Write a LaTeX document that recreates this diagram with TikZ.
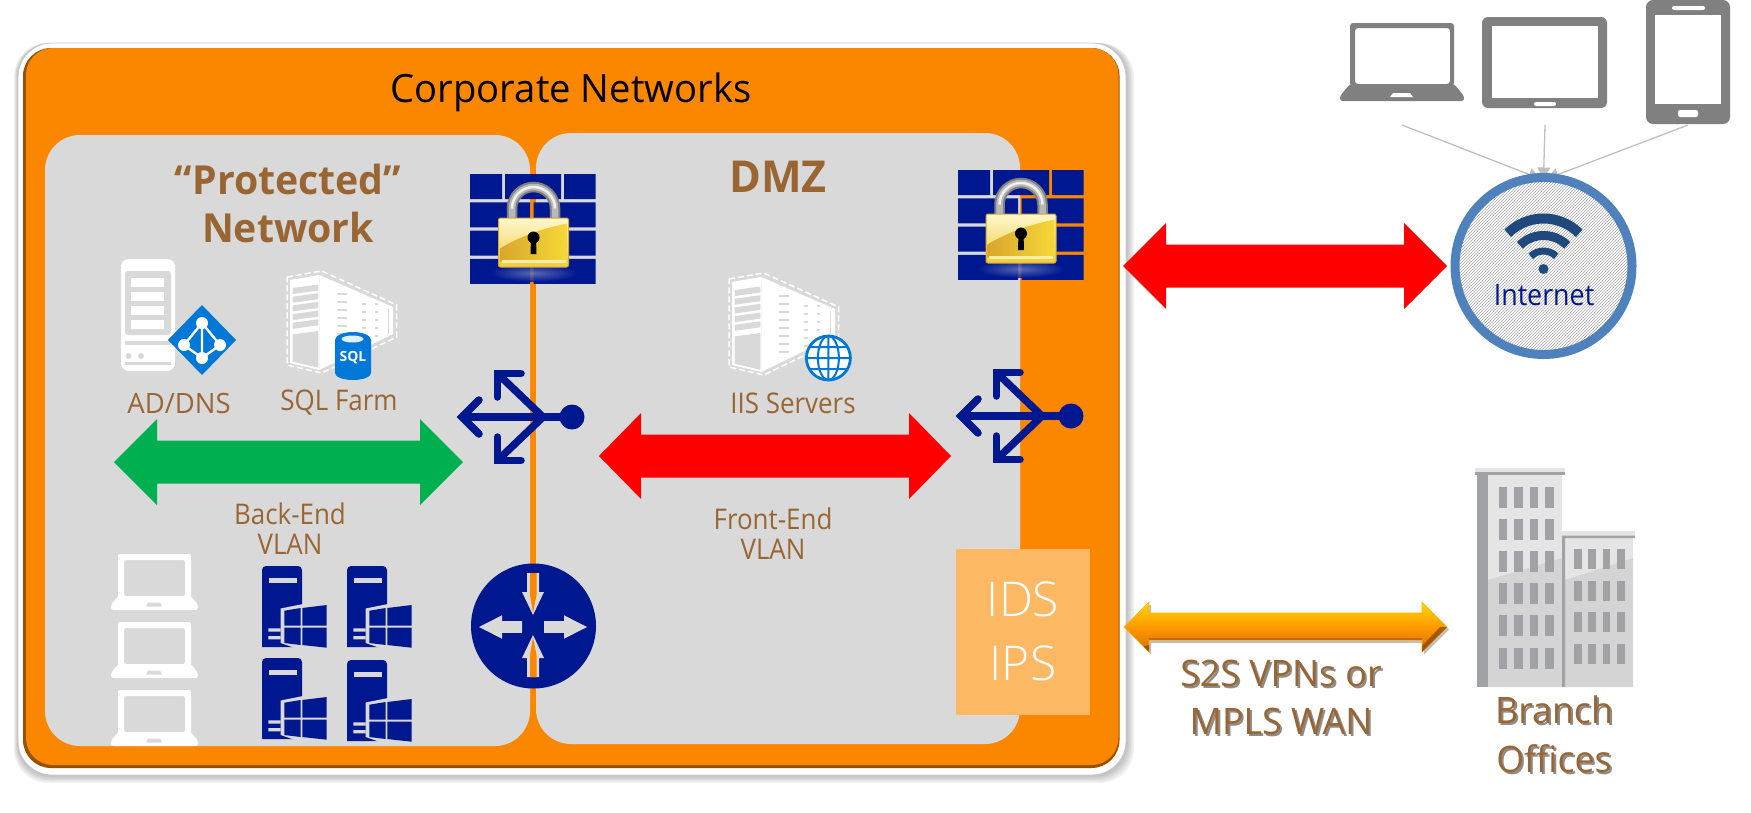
\documentclass[tikz,border=0pt]{standalone}
\usepackage{fontspec}
\setmainfont{Open Sans}
\newfontfamily\narrowf[FakeStretch=0.91]{Open Sans}
\newfontfamily\widef[FakeStretch=0.98]{Open Sans}
\newfontfamily\lightf[FakeStretch=1.0]{Open Sans Light}
\usetikzlibrary{arrows.meta,patterns}
\definecolor{navy}{HTML}{00188F}
\definecolor{panelgray}{HTML}{D9D9D9}
\definecolor{orangeb}{HTML}{FB8700}
\definecolor{brownt}{HTML}{996633}
\definecolor{devgray}{HTML}{808080}
\definecolor{azureb}{HTML}{0078D7}
\definecolor{winb}{HTML}{A1A2A6}
\definecolor{wifib}{HTML}{1F497D}
\definecolor{idsb}{HTML}{FDB863}
\definecolor{greenb}{HTML}{00B050}
\definecolor{circb}{HTML}{4F81BD}
\tikzset{
  panel/.style={fill=panelgray,rounded corners=35pt},
  lab/.style={text=brownt,inner sep=0pt,align=center,font=\narrowf\fontsize{28.5}{30}\selectfont},
  biglab/.style={text=brownt,inner sep=0pt,align=center,font=\widef\bfseries\fontsize{40}{48}\selectfont},
  shlab/.style={inner sep=0pt,align=center,font=\widef\fontsize{36.5}{48.5}\selectfont},
  feed/.style={draw=black!25,line width=1.3pt,-{Triangle[length=11pt,width=13pt]}}
}
\newcommand\blockarrow[7]{%
  \fill[#7] (#1,#3) -- ({#1+#6},{#3-#5}) -- ({#1+#6},{#3-#4}) -- ({#2-#6},{#3-#4}) -- ({#2-#6},{#3-#5}) -- (#2,#3) -- ({#2-#6},{#3+#5}) -- ({#2-#6},{#3+#4}) -- ({#1+#6},{#3+#4}) -- ({#1+#6},{#3+#5}) -- cycle;}
\newcommand\firewall[2]{%
\begin{scope}[shift={(#1,#2)}]
  \fill[navy] (0,0) rectangle (32,25) (35,0) rectangle (91,25) (94,0) rectangle (125.5,25);
  \foreach \r in {28.3,56.6,84.9} {
    \fill[navy] (0,\r) rectangle (60,\r+25) (63.5,\r) rectangle (125.5,\r+25);}
\end{scope}}
\definecolor{goldd}{HTML}{D9A62C}
\definecolor{goldl}{HTML}{F6D838}
\definecolor{goldc}{HTML}{FFF8CC}
\definecolor{goldm}{HTML}{EFCB45}
\newcommand\padlock[2]{%
\begin{scope}[shift={(#1,#2)}]
  \shade[inner color=white!40!navy,outer color=navy,opacity=.85] (-44,22) rectangle (44,39);
  \draw[line width=10.5pt,color=black!50] (-21.5,-20) -- (-21.5,-34) arc[start angle=180,end angle=0,radius=21.5pt] -- (21.5,-20);
  \draw[line width=6.5pt,color=black!28] (-21.5,-20) -- (-21.5,-34) arc[start angle=180,end angle=0,radius=21.5pt] -- (21.5,-20);
  \draw[line width=2.5pt,color=black!6] (-21.5,-34) arc[start angle=180,end angle=0,radius=21.5pt];
  \shade[top color=goldc,bottom color=goldm,rounded corners=2pt,draw=goldd,line width=1pt] (-35,-24.5) rectangle (35,24.5);
  \shade[left color=goldd,right color=goldl] (-33.5,19) -- (-33.5,6) .. controls (-12,-7) and (10,-14) .. (33.5,-19) -- (33.5,19) -- cycle;
  \fill[goldc!70!goldl] (-32,17.5) rectangle (32,20.5);
  \fill[black] (0,-5) circle[radius=6pt];
  \fill[black] (-2.5,-5) -- (-3,11.5) -- (3,11.5) -- (2.5,-5) -- cycle;
\end{scope}}
\newcommand\switchsym[2]{%
\begin{scope}[shift={(#1,#2)},line width=7.5pt,navy]
  \draw (-78,0) -- (28,0);
  \fill (31,0) circle[radius=12.5pt];
  \draw (-43.5,-43.5) -- (2,0) -- (-43.5,43.5);
  \draw[line cap=round,miter limit=10] (-62,-17) -- (-79,0) -- (-62,17);
  \draw[line cap=round,miter limit=10] (-43.5,-20) -- (-43.5,-43.5) -- (-20,-43.5);
  \draw[line cap=round,miter limit=10] (-43.5,20) -- (-43.5,43.5) -- (-20,43.5);
\end{scope}}
\newcommand\wlaptop[2]{%
\begin{scope}[shift={(#1,#2)}]
  \fill[white,rounded corners=2pt,even odd rule] (7,0) rectangle (80,44) (13,6) rectangle (74,42);
  \fill[white,rounded corners=2.5pt] (7,42) -- (0,51) -- (0,56) -- (87,56) -- (87,51) -- (80,42) -- cycle;
  \fill[panelgray] (35,52.7) -- (37,48.7) -- (49,48.7) -- (51,52.7) -- cycle;
\end{scope}}
\newcommand\winserver[2]{%
\begin{scope}[shift={(#1,#2)}]
  \fill[navy] (0,81) [rounded corners=4pt] -- (0,0) -- (40,0) [sharp corners] -- (40,81) -- cycle;
  \fill[panelgray] (6.5,12) rectangle (35,16.5);
  \fill[panelgray] (18.7,42.5) -- (41,38) -- (41,82) -- (33,82) -- (18.7,77) -- cycle;
  \fill[panelgray] (6.3,62.3) rectangle (18.7,65.6) (6.3,70) rectangle (18.7,73.3);
  \fill[navy] (22.3,44.7) -- (38.7,42) -- (38.7,59.7) -- (22.3,59.7) -- cycle;
  \fill[navy] (40.3,42) -- (64.7,39) -- (64.7,59.7) -- (40.3,59.7) -- cycle;
  \fill[navy] (22.3,61.7) -- (38.7,61.7) -- (38.7,79) -- (22.3,77) -- cycle;
  \fill[navy] (40.3,61.7) -- (64.7,61.7) -- (64.7,81.7) -- (40.3,79) -- cycle;
\end{scope}}
\newcommand\datacenter[2]{%
\begin{scope}[shift={(#1,#2)}]
  \draw[white,line width=1.5pt,dash pattern=on 6pt off 3pt] (0,5) -- (34.7,-1) -- (109.7,33) -- (109.7,65) -- (34.7,101) -- (0,93) -- cycle;
  \fill[white] (3,8) -- (32.3,3) -- (32.3,98) -- (3,91) -- cycle;
  \fill[white] (32.3,3) -- (106,35) -- (106,62) -- (32.3,98) -- cycle;
  \foreach \k in {0,...,4} {
    \fill[panelgray] (5.7,{16+8.7*\k}) -- (31.3,{12.5+8.7*\k}) -- (31.3,{18.5+8.7*\k}) -- (5.7,{22+8.7*\k}) -- cycle;}
  \fill[panelgray] (5.7,62.3) -- (31.3,59) -- (31.3,95.7) -- (5.7,89.7) -- cycle;
  \foreach \s in {22,30,38,46,54,62,70,78} {
    \draw[panelgray,line width=2.6pt] (50.3,\s) -- (60,\s);}
  \foreach \s in {32,40,48,56,64,72} {
    \draw[panelgray,line width=2.4pt] (75,\s) -- (78.5,\s);
    \draw[panelgray,line width=2.4pt] (88,\s) -- (91,\s);
  }
  \draw[panelgray,line width=1pt] (101,37) -- (101,62);
\end{scope}}
\begin{document}
\begin{tikzpicture}[x=1pt,y=-1pt]
\useasboundingbox (0,0) rectangle (1751,812);
\foreach \d in {8,6.5,5,3.5,2} {
  \fill[black,opacity=.05,rounded corners=34pt] (18-\d*.5,43) rectangle (1126+\d,775+\d);}
\fill[white,rounded corners=34pt] (18,43) rectangle (1126,775);
\draw[black!22,line width=.8pt,rounded corners=34pt] (18,43) rectangle (1126,775);
\fill[black!40!orangeb,rounded corners=28pt] (23,48) rectangle (1119.5,768);
\fill[orangeb,rounded corners=27pt] (26,48) rectangle (1118.5,765);
\node[inner sep=0pt,text=black,font=\widef\fontsize{39}{44}\selectfont] (title) at (571,92) {Corporate Networks};
\fill[panel] (45,135) rectangle (530,746);
\fill[panel] (536,133) rectangle (1020,744);
\node[biglab] (prot) at (288,203) {“Protected”\\Network};
\node[biglab,font=\widef\bfseries\fontsize{44}{48}\selectfont] (dmz) at (778,177) {DMZ};
\firewall{470}{174}
\padlock{533.5}{242.5}
\firewall{958}{170}
\padlock{1021}{238.5}
\fill[white,rounded corners=8pt] (121,259) rectangle (175,371);
\fill[panelgray,rounded corners=3pt] (125,271) rectangle (171,335);
\foreach \s in {278,292,306,320} {\fill[white] (131,\s) rectangle (164,\s+9);}
\fill[panelgray] (125,341) rectangle (171,344.5);
\fill[panelgray] (128.5,356) circle[radius=3pt] (141,356) circle[radius=3pt];
\fill[panelgray] (125,362) rectangle (171,364.5);
\fill[azureb] (168,340) -- (202,305) -- (236,340) -- (202,375) -- cycle;
\draw[white,line width=2.4pt] (202,323) -- (184,345) -- (202,358) -- (220,345) -- cycle (202,323) -- (202,358);
\fill[white] (202,323) circle[radius=6pt] (184,345) circle[radius=6pt] (220,345) circle[radius=6pt] (202,358) circle[radius=6pt];
\datacenter{287}{272}
\fill[azureb] (335,340) arc[start angle=180,end angle=0,x radius=18pt,y radius=8pt] -- (371,373) arc[start angle=0,end angle=-180,x radius=18pt,y radius=7pt] -- cycle;
\fill[white!88!azureb] (352.5,339) ellipse[x radius=11pt,y radius=3.5pt];
\node[inner sep=0pt,text=white,font=\bfseries\fontsize{14}{16}\selectfont] (sqltag) at (353,358) {SQL};
\datacenter{729}{274}
\draw[azureb,line width=2.8pt,fill=white] (828.4,358) circle[radius=22pt];
\draw[azureb,line width=2pt] (828.4,358) ellipse[x radius=10.5pt,y radius=22pt] (828.4,336) -- (828.4,380) (806.4,358) -- (850.4,358) (810,347) -- (847,347) (810,369) -- (847,369);
\node[lab,font=\widef\fontsize{28}{30}\selectfont] (adl) at (179,403) {AD/DNS};
\node[lab] (sql) at (339,403) {SQL Farm};
\node[lab] (iis) at (793,403) {IIS Servers};
\node[lab] (be) at (290,528.5) {Back-End\\VLAN};
\node[lab] (fe) at (773,534) {Front-End\\VLAN};
\blockarrow{114}{463}{462}{21.5}{43}{43}{greenb}
\blockarrow{599}{951}{456}{21.5}{43}{42}{red}
\blockarrow{1123}{1447}{266}{21.5}{43}{43}{red}
\switchsym{541}{417}
\switchsym{1040}{416}
\wlaptop{111}{554}
\wlaptop{111}{622}
\wlaptop{111}{690}
\winserver{262}{566}
\winserver{347}{566}
\winserver{262}{658}
\winserver{347}{660}
\fill[navy] (533.5,626) circle[radius=62.5pt];
\fill[panelgray] (533,615) -- (522,592) -- (527,592) -- (527,573) -- (539,573) -- (539,592) -- (544,592) -- cycle;
\fill[panelgray] (533,635) -- (522,658) -- (527,658) -- (527,677) -- (539,677) -- (539,658) -- (544,658) -- cycle;
\fill[orangeb] (530,573) -- (536.5,573) -- (536.5,595) -- (533,613) -- (530,595) -- cycle;
\fill[orangeb] (530,677) -- (536.5,677) -- (536.5,655) -- (533,637) -- (530,655) -- cycle;
\fill[panelgray] (479,627) -- (502,615.3) -- (502,621.2) -- (522,621.2) -- (522,632.8) -- (502,632.8) -- (502,638.7) -- cycle;
\fill[panelgray] (587,627) -- (564,615.3) -- (564,621.2) -- (544,621.2) -- (544,632.8) -- (564,632.8) -- (564,638.7) -- cycle;
\fill[idsb] (956,549) rectangle (1090,715);
\node[inner sep=0pt,text=white,align=center,font=\lightf\fontsize{48}{64}\selectfont] (ids) at (1023,631) {IDS\\IPS};
\blockarrow{1126}{1449}{629.5}{13.5}{25}{25}{black,opacity=.25}
\shade[top color=yellow!70!orange,bottom color=orange!85!black,middle color=orange!80!yellow,draw=orange!60!yellow,line width=.6pt]
 (1124,627) -- (1149,602) -- (1149,613) -- (1422,613) -- (1422,602) -- (1447,627) -- (1422,652) -- (1422,640) -- (1149,640) -- (1149,652) -- cycle;
\fill[orange!55!black,opacity=.75] (1447,627) -- (1422,652) -- (1422,646) -- (1440,627) -- cycle;
\fill[orange!55!black,opacity=.75] (1149,652) -- (1143.5,646.5) -- (1149,645) -- cycle;
\fill[orange!75!black,opacity=.8] (1149,640) -- (1422,640) -- (1422,637.5) -- (1149,637.5) -- cycle;
\node[shlab,text=black!45] (s2sshadow) at (1283,699.5) {S2S VPNs or\\MPLS WAN};
\node[shlab,text=brownt] (s2s) at (1281,697.5) {S2S VPNs or\\MPLS WAN};
\fill[black!10] (1488,475) rectangle (1562,687);
\fill[black!17] (1488,580) -- (1562,558) -- (1562,687) -- (1488,687) -- cycle;
\fill[winb] (1477,475) rectangle (1488,687);
\fill[black!10] (1475,468) rectangle (1565,472);
\fill[winb] (1475,472) rectangle (1565,475);
\fill[black!10] (1562,538) rectangle (1633,687);
\fill[black!17] (1565,580) -- (1633,558) -- (1633,687) -- (1565,687) -- cycle;
\fill[black!10] (1562,531) rectangle (1635,535.7);
\fill[winb] (1562,535.7) rectangle (1635,538) (1562,538) rectangle (1565,687);
\foreach \wy in {487,519,551,583,615,648} {
  \foreach \wx/\ww in {1499/7.6,1513.7/9,1530/7.8,1545/9} {
    \fill[winb] (\wx,\wy) rectangle (\wx+\ww,\wy+21);}}
\foreach \wy in {549,581,612,644} {
  \foreach \wx/\ww in {1574/8,1587.6/8.4,1603/7,1616.6/8.4} {
    \fill[winb] (\wx,\wy) rectangle (\wx+\ww,\wy+20);}}
\node[shlab,text=black!45] (brshadow) at (1556,736.5) {Branch\\Offices};
\node[shlab,text=brownt] (br) at (1554,734.5) {Branch\\Offices};
\fill[devgray,rounded corners=3pt,even odd rule] (1350,23) rectangle (1454,86) (1355,28) rectangle (1450,84);
\fill[devgray,rounded corners=2.5pt] (1350,84) -- (1340,96) -- (1340,101) -- (1464,101) -- (1464,96) -- (1454,84) -- cycle;
\fill[white] (1390,97) -- (1393,93) -- (1410,93) -- (1413,97) -- cycle;
\fill[devgray,rounded corners=6pt] (1482,17) rectangle (1607,108);
\fill[white] (1492,26) rectangle (1598,98);
\fill[white,rounded corners=2pt] (1534,102) rectangle (1556,106);
\fill[devgray,rounded corners=7pt] (1646,0) rectangle (1730,124);
\fill[white] (1655,15) rectangle (1721,104);
\fill[white,rounded corners=2pt] (1672,6) rectangle (1705,10) (1678,110) rectangle (1698,117);
\coordinate (laptopfoot) at (1402,125);
\coordinate (tabletfoot) at (1545,125);
\coordinate (phonefoot) at (1688,125);
\node[circle,inner sep=0pt,outer sep=0pt,minimum size=177pt,pattern=north east lines,pattern color=black!35] (internet) at (1543.5,266) {};
\draw[feed] (laptopfoot) -- ([xshift=-4pt,yshift=-1pt]internet.north);
\draw[feed] (tabletfoot) -- ([yshift=-1pt]internet.north);
\draw[feed] (phonefoot) -- ([xshift=4pt,yshift=-1pt]internet.north);
\draw[line width=9pt,circb] (internet) circle[radius=88.5pt];
\draw[wifib,line width=10pt] (1543.5+35.7,269-35.7) arc[start angle=45,end angle=135,radius=50.5pt];
\draw[wifib,line width=9pt] (1543.5+23.7,269-23.7) arc[start angle=45,end angle=135,radius=33.5pt];
\draw[wifib,line width=7pt] (1543.5+12.7,269-12.7) arc[start angle=45,end angle=135,radius=18pt];
\fill[wifib] (1543.5,269) circle[radius=5pt];
\node[inner sep=0pt,text=navy,font=\narrowf\fontsize{29.5}{33}\selectfont] (inettext) at (1544,295) {Internet};
\end{tikzpicture}
\end{document}
